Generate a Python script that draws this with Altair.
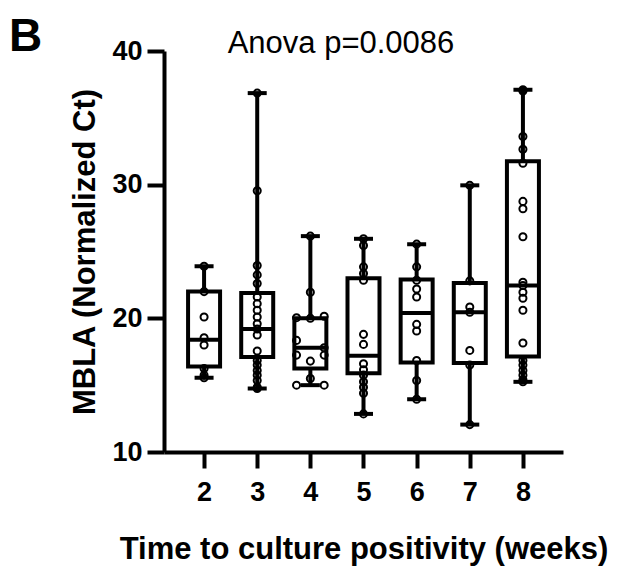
import altair as alt
import pandas as pd

# ---------------- data ----------------
weeks = [2, 3, 4, 5, 6, 7, 8]

box_min = [15.55, 14.75, 15.0, 12.85, 13.95, 12.05, 15.25]
box_q1 = [16.4, 17.1, 16.25, 15.9, 16.7, 16.65, 17.15]
box_median = [18.4, 19.2, 17.8, 17.2, 20.4, 20.45, 22.45]
box_q3 = [22.0, 21.9, 20.0, 23.0, 22.9, 22.65, 31.75]
box_max = [23.9, 36.85, 26.15, 25.95, 25.55, 29.95, 37.1]

values_w2 = [23.9, 22.0, 20.1, 18.55, 18.0, 16.25, 15.75, 15.55]
values_w3 = [36.85, 29.55, 23.95, 23.25, 22.6, 21.6, 21.1, 20.6, 20.1, 19.6,
             19.2, 18.75, 17.55, 16.85, 16.5, 16.1, 15.75, 15.35, 14.85, 14.75]
values_w4 = [26.15, 21.95, 20.05, 20.0, 20.15, 18.35, 17.8, 17.25, 17.25, 16.8,
             15.5, 15.0, 15.0]
side_w4 = [0, 0, -1, 0, 1, -1, 1, -1, 1, 0, 0, -1, 1]
values_w5 = [25.95, 25.45, 23.85, 23.35, 22.85, 18.8, 18.05, 16.6, 16.15, 15.75,
             15.25, 14.85, 14.4, 12.85]
values_w6 = [25.55, 23.85, 22.85, 22.2, 21.6, 19.55, 19.05, 16.85, 15.35, 13.95]
values_w7 = [29.95, 22.8, 20.85, 20.45, 17.6, 16.5, 12.05]
values_w8 = [37.1, 37.0, 33.6, 32.65, 31.6, 28.75, 28.2, 26.1, 22.7, 22.45,
             21.95, 21.5, 20.6, 18.15, 16.85, 16.5, 16.1, 15.75, 15.4, 15.25]

x_ticks = [2, 3, 4, 5, 6, 7, 8]
y_ticks = [10, 20, 30, 40]

panel_label = "B"
title_text = "Anova p=0.0086"
x_title = "Time to culture positivity (weeks)"
y_title = "MBLA (Normalized Ct)"

# ---------------- tables ----------------
box_df = pd.DataFrame({"week": weeks, "min": box_min, "q1": box_q1,
                       "median": box_median, "q3": box_q3, "max": box_max})

groups = {2: values_w2, 3: values_w3, 4: values_w4, 5: values_w5,
          6: values_w6, 7: values_w7, 8: values_w8}
rows = []
for wk, vals in groups.items():
    for i, v in enumerate(vals):
        side = side_w4[i] if wk == 4 else 0
        rows.append({"week": wk, "value": v, "side": side})
pts_df = pd.DataFrame(rows)

FONT = "Liberation Sans"

xscale = alt.Scale(domain=[1.34, 8.66], nice=False, zero=False)
yscale = alt.Scale(domain=[10, 40], nice=False, zero=False)

xaxis = alt.Axis(values=x_ticks, title=x_title, format="d", grid=False,
                 labelFont=FONT, labelFontSize=27, labelFontWeight="bold",
                 labelColor="black", labelPadding=11, labelFlush=False,
                 tickSize=16, tickWidth=4, tickColor="black",
                 domainColor="black", domainWidth=4,
                 titleFont=FONT, titleFontSize=31, titleFontWeight="bold",
                 titleColor="black", titlePadding=29)
yaxis = alt.Axis(values=y_ticks, title=y_title, format="d", grid=False,
                 labelFont=FONT, labelFontSize=27, labelFontWeight="bold",
                 labelColor="black", labelPadding=5, labelFlush=False,
                 tickSize=17, tickWidth=4, tickColor="black",
                 domainColor="black", domainWidth=4,
                 titleFont=FONT, titleFontSize=31, titleFontWeight="bold",
                 titleColor="black", titlePadding=10)

base = alt.Chart(box_df)

whisker = base.mark_rule(color="black", strokeWidth=4).encode(
    x=alt.X("week:Q", scale=xscale, axis=xaxis),
    y=alt.Y("min:Q", scale=yscale, axis=yaxis),
    y2="max:Q",
)
box = base.mark_bar(size=32, fill="white", stroke="black", strokeWidth=4).encode(
    x=alt.X("week:Q", scale=xscale, axis=xaxis),
    y=alt.Y("q1:Q", scale=yscale, axis=yaxis),
    y2="q3:Q",
)
median = base.mark_tick(orient="horizontal", size=32, thickness=4, color="black",
                        opacity=1).encode(
    x=alt.X("week:Q", scale=xscale, axis=xaxis),
    y=alt.Y("median:Q", scale=yscale, axis=yaxis),
)
cap_min = base.mark_tick(orient="horizontal", size=19, thickness=4, color="black",
                         opacity=1).encode(
    x=alt.X("week:Q", scale=xscale, axis=xaxis),
    y=alt.Y("min:Q", scale=yscale, axis=yaxis),
)
cap_max = base.mark_tick(orient="horizontal", size=19, thickness=4, color="black",
                         opacity=1).encode(
    x=alt.X("week:Q", scale=xscale, axis=xaxis),
    y=alt.Y("max:Q", scale=yscale, axis=yaxis),
)
points = alt.Chart(pts_df).transform_calculate(
    xpos="datum.week + datum.side * 0.26"
).mark_point(shape="circle", filled=False, size=50, strokeWidth=2,
             color="black", opacity=1).encode(
    x=alt.X("xpos:Q", scale=xscale, axis=xaxis),
    y=alt.Y("value:Q", scale=yscale, axis=yaxis),
)

label_b = alt.Chart(pd.DataFrame({"t": [panel_label]})).mark_text(
    font=FONT, fontSize=46, fontWeight="bold", color="black",
    align="left", baseline="alphabetic"
).encode(text="t:N", x=alt.value(-155), y=alt.value(-0.5))

label_title = alt.Chart(pd.DataFrame({"t": [title_text]})).mark_text(
    font=FONT, fontSize=31, color="black", align="center", baseline="alphabetic"
).encode(text="t:N", x=alt.value(177), y=alt.value(2))

chart = alt.layer(
    whisker, box, median, cap_min, cap_max, points, label_b, label_title
).properties(
    width=399, height=401,
    padding={"left": 156, "top": 43, "right": 58, "bottom": 117},
    autosize=alt.AutoSizeParams(type="none"),
    background="white",
).configure_view(stroke=None)

chart.save("out.html", embed_options={"renderer": "svg", "actions": False})
